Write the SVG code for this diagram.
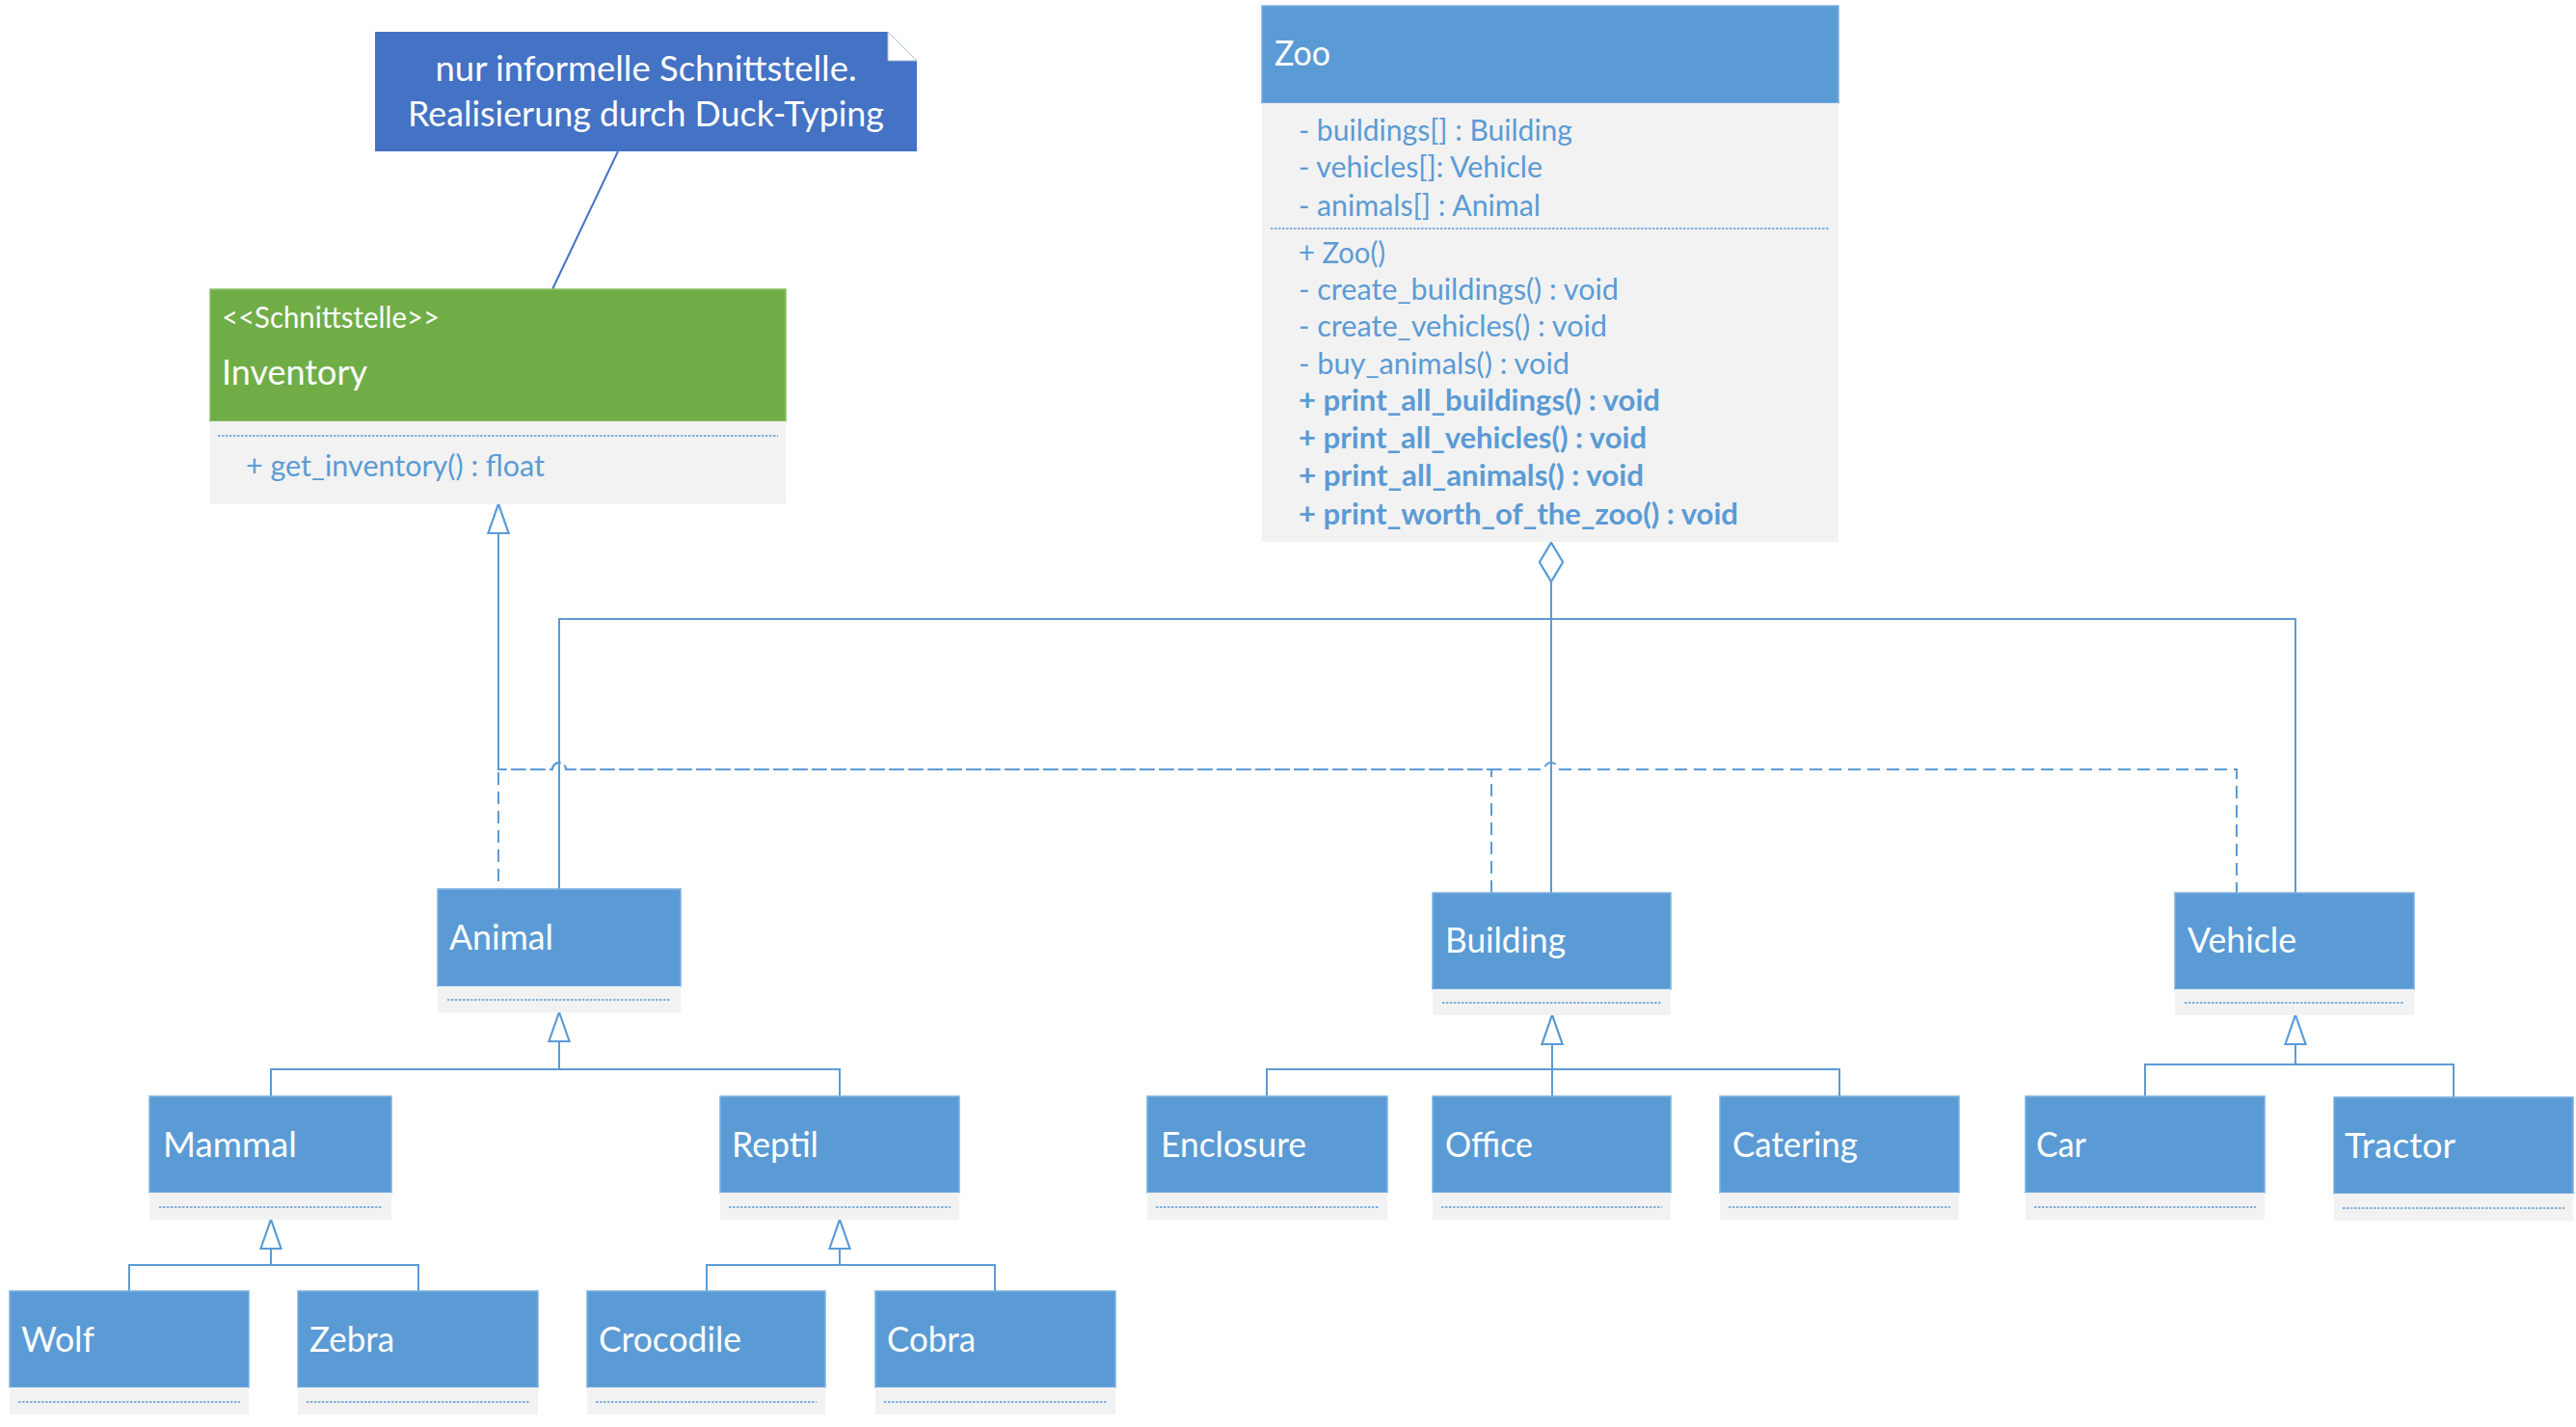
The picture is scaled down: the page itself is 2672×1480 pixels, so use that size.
<svg xmlns="http://www.w3.org/2000/svg" width="2672" height="1480" viewBox="0 0 2672 1480">
<style>
.hdr{fill:#5B9BD5;stroke:#7DB1E0;stroke-width:1.5}
.cmp{fill:#F2F2F2}
.sep{stroke:#5B9BD5;stroke-width:1.5;stroke-dasharray:2.5 1.5;fill:none}
.ttl{font-family:Lato,"Open Sans",sans-serif;font-size:36px;fill:#FFFFFF}
.mem{font-family:Lato,"Open Sans",sans-serif;font-size:30.5px;fill:#5B9BD5}
.bold{font-weight:bold}
.ln{fill:none;stroke:#5B9BD5;stroke-width:2}
.dash{fill:none;stroke:#5B9BD5;stroke-width:2;stroke-dasharray:13 7}
.note{font-family:Lato,"Open Sans",sans-serif;font-size:36px;fill:#FFFFFF}
</style>
<defs>
<marker id="gen" viewBox="0 -12 33 24" refX="31" refY="0" markerWidth="33" markerHeight="24" markerUnits="userSpaceOnUse" orient="auto">
<polygon points="1,-10.5 31,0 1,10.5" fill="#FFFFFF" stroke="#5B9BD5" stroke-width="2"/>
</marker>
<marker id="agg" viewBox="-1 -13 43 26" refX="0" refY="0" markerWidth="43" markerHeight="26" markerUnits="userSpaceOnUse" orient="auto">
<polygon points="0,0 20,-12 40,0 20,12" fill="#FFFFFF" stroke="#5B9BD5" stroke-width="2"/>
</marker>
</defs>
<rect x="0" y="0" width="2672" height="1480" fill="#FFFFFF"/>

<g id="connectors">
<line x1="641" y1="157" x2="573" y2="300" stroke="#4472C4" stroke-width="2"/>
<path class="ln" d="M1609,563 V926" marker-start="url(#agg)"/>
<path class="ln" d="M1609,563 V642 H580 V922" marker-start="url(#agg)"/>
<path class="ln" d="M1609,563 V642 H2381 V926" marker-start="url(#agg)"/>
<path class="dash" style="stroke-dashoffset:12" d="M517,922 V523" marker-end="url(#gen)"/>
<path class="dash" d="M1547,926 V798 H587 A7,7 0 0 0 573,798 H517 V523" marker-end="url(#gen)"/>
<path class="dash" style="stroke-dashoffset:2" d="M2320,926 V798 H1616 A7,7 0 0 0 1602,798 H587 A7,7 0 0 0 573,798 H517 V523" marker-end="url(#gen)"/>
<path class="ln" d="M281,1137 V1109 H580 V1050" marker-end="url(#gen)"/>
<path class="ln" d="M871,1137 V1109 H580 V1050" marker-end="url(#gen)"/>
<path class="ln" d="M134,1339 V1312 H281 V1265" marker-end="url(#gen)"/>
<path class="ln" d="M434,1339 V1312 H281 V1265" marker-end="url(#gen)"/>
<path class="ln" d="M733,1339 V1312 H871 V1265" marker-end="url(#gen)"/>
<path class="ln" d="M1032,1339 V1312 H871 V1265" marker-end="url(#gen)"/>
<path class="ln" d="M1314,1137 V1109 H1610 V1053" marker-end="url(#gen)"/>
<path class="ln" d="M1610,1137 V1053" marker-end="url(#gen)"/>
<path class="ln" d="M1908,1137 V1109 H1610 V1053" marker-end="url(#gen)"/>
<path class="ln" d="M2225,1137 V1104 H2381 V1053" marker-end="url(#gen)"/>
<path class="ln" d="M2545,1138 V1104 H2381 V1053" marker-end="url(#gen)"/>
</g>

<g id="note">
<polygon points="389,33 921,33 921,63 951,63 951,157 389,157" fill="#4472C4"/>
<polygon points="921,33 951,63 921,63" fill="#FFFFFF" stroke="#A9BFE6" stroke-width="1"/>
<text class="note" x="670" y="84" text-anchor="middle" textLength="437" lengthAdjust="spacingAndGlyphs">nur informelle Schnittstelle.</text>
<text class="note" x="670" y="131" text-anchor="middle" textLength="494" lengthAdjust="spacingAndGlyphs">Realisierung durch Duck-Typing</text>
</g>

<g id="inventory">
<rect x="218" y="300" width="597" height="137" fill="#70AD47" stroke="#8CC06A" stroke-width="1.5"/>
<rect class="cmp" x="218" y="437" width="597" height="86"/>
<line class="sep" x1="226" y1="452" x2="807" y2="452"/>
<text class="mem" style="fill:#FFFFFF" x="230" y="340" textLength="226" lengthAdjust="spacingAndGlyphs">&lt;&lt;Schnittstelle&gt;&gt;</text>
<text class="ttl" x="230" y="399" textLength="151" lengthAdjust="spacingAndGlyphs">Inventory</text>
<text class="mem" x="255" y="494" textLength="310" lengthAdjust="spacingAndGlyphs">+ get_inventory() : float</text>
</g>

<g id="zoo">
<rect class="hdr" x="1309" y="6" width="598" height="101"/>
<rect class="cmp" x="1309" y="107" width="598" height="455"/>
<line class="sep" x1="1318" y1="237" x2="1897" y2="237"/>
<text class="ttl" x="1322" y="68" textLength="58" lengthAdjust="spacingAndGlyphs">Zoo</text>
<text class="mem" x="1347" y="146" textLength="284" lengthAdjust="spacingAndGlyphs">- buildings[] : Building</text>
<text class="mem" x="1347" y="184" textLength="253" lengthAdjust="spacingAndGlyphs">- vehicles[]: Vehicle</text>
<text class="mem" x="1347" y="224" textLength="251" lengthAdjust="spacingAndGlyphs">- animals[] : Animal</text>
<text class="mem" x="1347" y="273" textLength="90" lengthAdjust="spacingAndGlyphs">+ Zoo()</text>
<text class="mem" x="1347" y="311" textLength="332" lengthAdjust="spacingAndGlyphs">- create_buildings() : void</text>
<text class="mem" x="1347" y="349" textLength="320" lengthAdjust="spacingAndGlyphs">- create_vehicles() : void</text>
<text class="mem" x="1347" y="388" textLength="281" lengthAdjust="spacingAndGlyphs">- buy_animals() : void</text>
<text class="mem bold" x="1347" y="426" textLength="375" lengthAdjust="spacingAndGlyphs">+ print_all_buildings() : void</text>
<text class="mem bold" x="1347" y="465" textLength="361" lengthAdjust="spacingAndGlyphs">+ print_all_vehicles() : void</text>
<text class="mem bold" x="1347" y="504" textLength="358" lengthAdjust="spacingAndGlyphs">+ print_all_animals() : void</text>
<text class="mem bold" x="1347" y="544" textLength="456" lengthAdjust="spacingAndGlyphs">+ print_worth_of_the_zoo() : void</text>
</g>

<g id="animal">
<rect class="hdr" x="454" y="922" width="252" height="101"/>
<rect class="cmp" x="454" y="1023" width="252" height="27"/>
<line class="sep" x1="464" y1="1037" x2="696" y2="1037"/>
<text class="ttl" x="466" y="985" textLength="108" lengthAdjust="spacingAndGlyphs">Animal</text>
</g>

<g id="building">
<rect class="hdr" x="1486" y="926" width="247" height="100"/>
<rect class="cmp" x="1486" y="1026" width="247" height="27"/>
<line class="sep" x1="1496" y1="1040" x2="1723" y2="1040"/>
<text class="ttl" x="1499" y="988" textLength="125" lengthAdjust="spacingAndGlyphs">Building</text>
</g>

<g id="vehicle">
<rect class="hdr" x="2256" y="926" width="248" height="100"/>
<rect class="cmp" x="2256" y="1026" width="248" height="27"/>
<line class="sep" x1="2266" y1="1040" x2="2494" y2="1040"/>
<text class="ttl" x="2269" y="988" textLength="113" lengthAdjust="spacingAndGlyphs">Vehicle</text>
</g>

<g id="mammal">
<rect class="hdr" x="155" y="1137" width="251" height="100"/>
<rect class="cmp" x="155" y="1237" width="251" height="28"/>
<line class="sep" x1="165" y1="1252" x2="397" y2="1252"/>
<text class="ttl" x="169" y="1200" textLength="139" lengthAdjust="spacingAndGlyphs">Mammal</text>
</g>

<g id="reptil">
<rect class="hdr" x="747" y="1137" width="248" height="100"/>
<rect class="cmp" x="747" y="1237" width="248" height="28"/>
<line class="sep" x1="756" y1="1252" x2="986" y2="1252"/>
<text class="ttl" x="759" y="1200" textLength="90" lengthAdjust="spacingAndGlyphs">Reptil</text>
</g>

<g id="wolf">
<rect class="hdr" x="10" y="1339" width="248" height="100"/>
<rect class="cmp" x="10" y="1439" width="248" height="28"/>
<line class="sep" x1="19" y1="1454" x2="249" y2="1454"/>
<text class="ttl" x="22" y="1402" textLength="76" lengthAdjust="spacingAndGlyphs">Wolf</text>
</g>

<g id="zebra">
<rect class="hdr" x="309" y="1339" width="249" height="100"/>
<rect class="cmp" x="309" y="1439" width="249" height="28"/>
<line class="sep" x1="318" y1="1454" x2="549" y2="1454"/>
<text class="ttl" x="321" y="1402" textLength="88" lengthAdjust="spacingAndGlyphs">Zebra</text>
</g>

<g id="crocodile">
<rect class="hdr" x="609" y="1339" width="247" height="100"/>
<rect class="cmp" x="609" y="1439" width="247" height="28"/>
<line class="sep" x1="618" y1="1454" x2="847" y2="1454"/>
<text class="ttl" x="621" y="1402" textLength="148" lengthAdjust="spacingAndGlyphs">Crocodile</text>
</g>

<g id="cobra">
<rect class="hdr" x="908" y="1339" width="249" height="100"/>
<rect class="cmp" x="908" y="1439" width="249" height="28"/>
<line class="sep" x1="917" y1="1454" x2="1148" y2="1454"/>
<text class="ttl" x="920" y="1402" textLength="92" lengthAdjust="spacingAndGlyphs">Cobra</text>
</g>

<g id="enclosure">
<rect class="hdr" x="1190" y="1137" width="249" height="100"/>
<rect class="cmp" x="1190" y="1237" width="249" height="28"/>
<line class="sep" x1="1199" y1="1252" x2="1430" y2="1252"/>
<text class="ttl" x="1204" y="1200" textLength="151" lengthAdjust="spacingAndGlyphs">Enclosure</text>
</g>

<g id="office">
<rect class="hdr" x="1486" y="1137" width="247" height="100"/>
<rect class="cmp" x="1486" y="1237" width="247" height="28"/>
<line class="sep" x1="1495" y1="1252" x2="1724" y2="1252"/>
<text class="ttl" x="1499" y="1200" textLength="91" lengthAdjust="spacingAndGlyphs">Office</text>
</g>

<g id="catering">
<rect class="hdr" x="1784" y="1137" width="248" height="100"/>
<rect class="cmp" x="1784" y="1237" width="248" height="28"/>
<line class="sep" x1="1793" y1="1252" x2="2023" y2="1252"/>
<text class="ttl" x="1797" y="1200" textLength="130" lengthAdjust="spacingAndGlyphs">Catering</text>
</g>

<g id="car">
<rect class="hdr" x="2101" y="1137" width="248" height="100"/>
<rect class="cmp" x="2101" y="1237" width="248" height="28"/>
<line class="sep" x1="2110" y1="1252" x2="2340" y2="1252"/>
<text class="ttl" x="2112" y="1200" textLength="52" lengthAdjust="spacingAndGlyphs">Car</text>
</g>

<g id="tractor">
<rect class="hdr" x="2421" y="1138" width="248" height="100"/>
<rect class="cmp" x="2421" y="1238" width="248" height="28"/>
<line class="sep" x1="2430" y1="1253" x2="2660" y2="1253"/>
<text class="ttl" x="2432" y="1201" textLength="115" lengthAdjust="spacingAndGlyphs">Tractor</text>
</g>
</svg>
